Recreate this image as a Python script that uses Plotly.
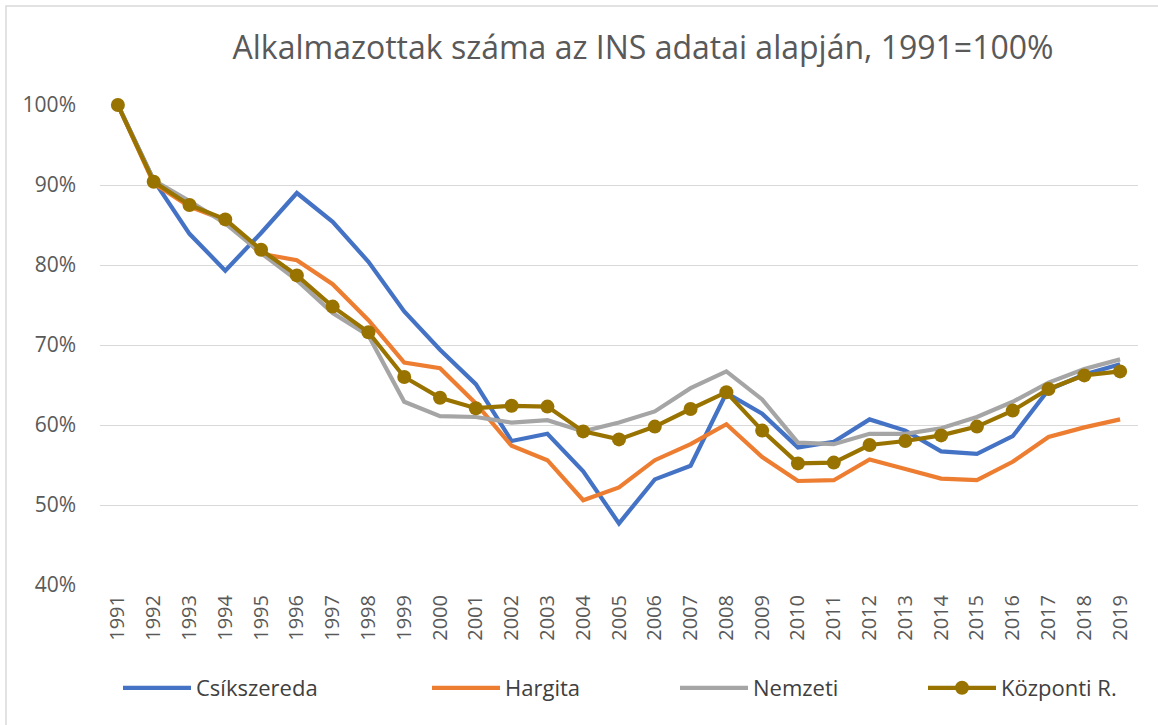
import plotly.graph_objects as go

years = [str(y) for y in range(1991, 2020)]

csikszereda = [100, 90.6, 83.9, 79.3, 84.0, 89.0, 85.4, 80.4, 74.2, 69.4, 65.1, 58.0, 58.9, 54.2, 47.7,
               53.2, 54.9, 64.0, 61.4, 57.2, 57.9, 60.7, 59.3, 56.7, 56.4, 58.6, 64.4, 66.3, 67.6]
hargita = [100, 90.2, 87.3, 85.6, 81.4, 80.6, 77.6, 73.1, 67.8, 67.1, 62.7, 57.4, 55.6, 50.6, 52.2,
           55.6, 57.6, 60.1, 56.0, 53.0, 53.1, 55.7, 54.5, 53.3, 53.1, 55.4, 58.5, 59.7, 60.7]
nemzeti = [100, 90.6, 88.0, 85.2, 81.5, 78.1, 74.0, 71.2, 62.9, 61.1, 61.0, 60.3, 60.6, 59.2, 60.3,
           61.7, 64.6, 66.7, 63.2, 57.8, 57.6, 58.9, 58.9, 59.6, 61.0, 62.9, 65.3, 67.0, 68.2]
kozponti = [100, 90.4, 87.5, 85.7, 81.9, 78.7, 74.8, 71.6, 66.0, 63.4, 62.1, 62.4, 62.3, 59.2, 58.2,
            59.8, 62.0, 64.1, 59.3, 55.2, 55.3, 57.5, 58.0, 58.7, 59.8, 61.8, 64.5, 66.2, 66.7]

series_names = ["Csíkszereda", "Hargita", "Nemzeti", "Központi R."]
title_text = "Alkalmazottak száma az INS adatai alapján, 1991=100%"
y_ticks = [40, 50, 60, 70, 80, 90, 100]
y_ticktext = [f"{v}%" for v in y_ticks]

FONT = "'Open Sans', Lato, sans-serif"
W, H = 1158, 725
ML, MR, MT, MB = 100, 20, 105, 140
PW, PH = W - ML - MR, H - MT - MB


def px_to_paper_x(px):
    return (px - ML) / PW


def px_to_paper_y(py):
    return (H - MB - py) / PH


fig = go.Figure()
fig.add_trace(go.Scatter(x=years, y=csikszereda, name=series_names[0], mode="lines",
                         line=dict(color="#4472C4", width=4.2), legend="legend", cliponaxis=False))
fig.add_trace(go.Scatter(x=years, y=hargita, name=series_names[1], mode="lines",
                         line=dict(color="#ED7D31", width=4.2), legend="legend2", cliponaxis=False))
fig.add_trace(go.Scatter(x=years, y=nemzeti, name=series_names[2], mode="lines",
                         line=dict(color="#A5A5A5", width=4.2), legend="legend3", cliponaxis=False))
fig.add_trace(go.Scatter(x=years, y=kozponti, name=series_names[3], mode="lines+markers",
                         line=dict(color="#997300", width=4.2),
                         marker=dict(color="#997300", size=14), legend="legend4", cliponaxis=False))

leg_common = dict(orientation="h", xanchor="left", yanchor="middle",
                  y=px_to_paper_y(688), itemwidth=68,
                  font=dict(family=FONT, size=22, color="#404040"),
                  bgcolor="rgba(0,0,0,0)")

fig.update_layout(
    width=W, height=H,
    margin=dict(l=ML, r=MR, t=MT, b=MB),
    paper_bgcolor="white", plot_bgcolor="white",
    font=dict(family=FONT, color="#595959"),
    title=dict(text=title_text, x=643 / W, xref="container", xanchor="center",
               y=1 - 48 / H, yref="container", yanchor="middle",
               font=dict(family=FONT, size=32, color="#595959")),
    showlegend=True,
    legend=dict(x=px_to_paper_x(118), **leg_common),
    legend2=dict(x=px_to_paper_x(427), **leg_common),
    legend3=dict(x=px_to_paper_x(675), **leg_common),
    legend4=dict(x=px_to_paper_x(923), **leg_common),
)

fig.update_xaxes(type="category", tickangle=-90, tickfont=dict(family=FONT, size=20, color="#595959"),
                 showgrid=False, showline=False, ticks="", range=[-0.5, len(years) - 0.5],
                 ticklabelstandoff=5)
fig.update_yaxes(range=[40, 100], tickvals=y_ticks, ticktext=y_ticktext,
                 tickfont=dict(family=FONT, size=21, color="#595959"),
                 showgrid=True, gridcolor="#D9D9D9", gridwidth=1.3,
                 zeroline=False, showline=False, ticks="", ticklabelstandoff=23)

# outer chart frame (only top and left edges are visible in the picture)
fig.add_shape(type="rect", xref="paper", yref="paper",
              x0=px_to_paper_x(6), x1=px_to_paper_x(1200),
              y0=px_to_paper_y(800), y1=px_to_paper_y(6),
              line=dict(color="#D9D9D9", width=1.5), fillcolor="rgba(0,0,0,0)", layer="below")

fig.write_html("out.html", config={"displayModeBar": False},
               post_script="document.body.style.margin='0px';")
